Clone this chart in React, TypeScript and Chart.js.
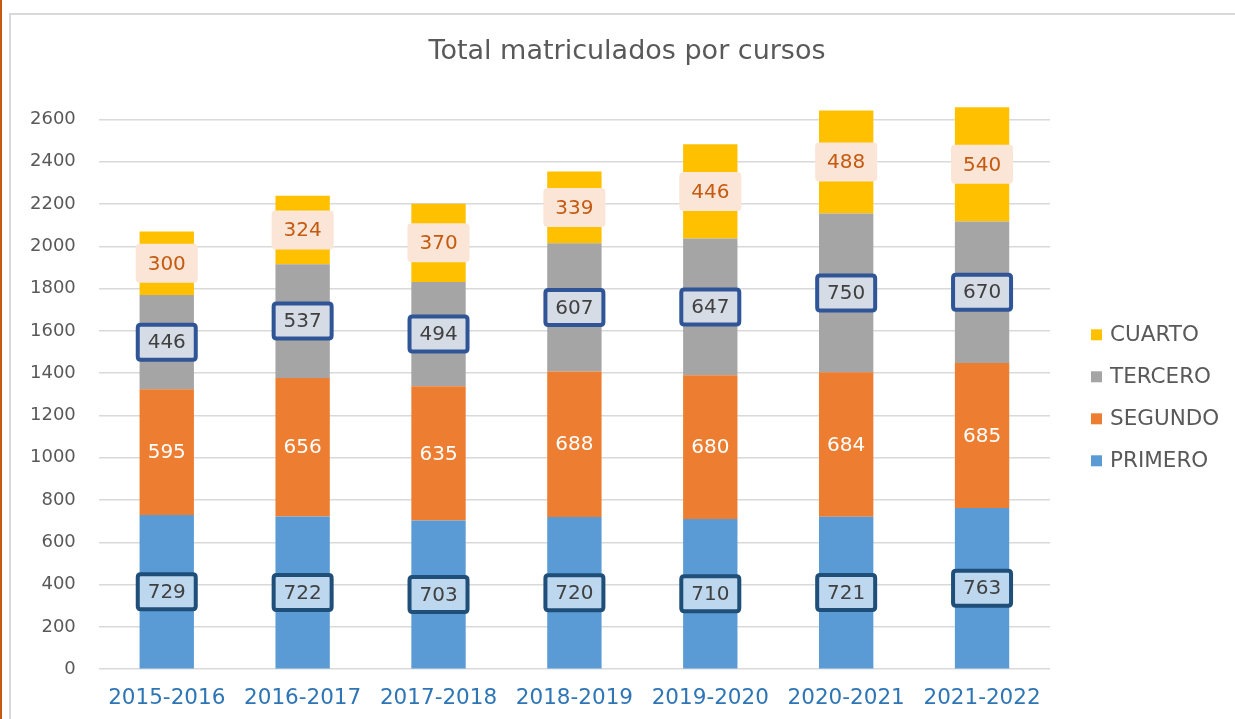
import React, { useEffect, useRef } from "react";
import { Chart, registerables } from "chart.js";

Chart.register(...registerables);

const categories = ["2015-2016", "2016-2017", "2017-2018", "2018-2019", "2019-2020", "2020-2021", "2021-2022"];
const primero = [729, 722, 703, 720, 710, 721, 763];
const segundo = [595, 656, 635, 688, 680, 684, 685];
const tercero = [446, 537, 494, 607, 647, 750, 670];
const cuarto = [300, 324, 370, 339, 446, 488, 540];
const seriesNames = ["PRIMERO", "SEGUNDO", "TERCERO", "CUARTO"];
const yMaxTick = 2600;

const FONT = "'DejaVu Sans', Verdana, sans-serif";
const GRAY = "#595959";

type LabelStyle = { fill?: string; border?: string; text: string };
const labelStyles: LabelStyle[] = [
  { fill: "#BDD7EE", border: "#1F4E79", text: "#404040" },
  { text: "#FFFFFF" },
  { fill: "#D6DCE5", border: "#2F5597", text: "#404040" },
  { fill: "#FBE5D6", text: "#C55A11" },
];

function roundRect(ctx: CanvasRenderingContext2D, x: number, y: number, w: number, h: number, r: number) {
  ctx.beginPath();
  ctx.moveTo(x + r, y);
  ctx.lineTo(x + w - r, y);
  ctx.quadraticCurveTo(x + w, y, x + w, y + r);
  ctx.lineTo(x + w, y + h - r);
  ctx.quadraticCurveTo(x + w, y + h, x + w - r, y + h);
  ctx.lineTo(x + r, y + h);
  ctx.quadraticCurveTo(x, y + h, x, y + h - r);
  ctx.lineTo(x, y + r);
  ctx.quadraticCurveTo(x, y, x + r, y);
  ctx.closePath();
}

const dataLabelPlugin = {
  id: "boxedLabels",
  afterDatasetsDraw(chart: any) {
    const ctx: CanvasRenderingContext2D = chart.ctx;
    ctx.save();
    chart.data.datasets.forEach((ds: any, di: number) => {
      const meta = chart.getDatasetMeta(di);
      const st = labelStyles[di];
      meta.data.forEach((bar: any, i: number) => {
        const cx = bar.x;
        const cy = (bar.y + bar.base) / 2;
        if (st.fill) {
          if (st.border) {
            roundRect(ctx, cx - 29, cy - 17.5, 58, 35, 3);
            ctx.fillStyle = st.fill;
            ctx.fill();
            ctx.lineWidth = 4;
            ctx.strokeStyle = st.border;
            ctx.stroke();
          } else {
            roundRect(ctx, cx - 31, cy - 19.5, 62, 39, 4);
            ctx.fillStyle = st.fill;
            ctx.fill();
          }
        }
        ctx.fillStyle = st.text;
        ctx.font = `20px ${FONT}`;
        ctx.textAlign = "center";
        ctx.textBaseline = "middle";
        ctx.fillText(String(ds.data[i]), cx, cy + 1);
      });
    });
    ctx.restore();
  },
};

const legendPlugin = {
  id: "sideLegend",
  afterDraw(chart: any) {
    const ctx: CanvasRenderingContext2D = chart.ctx;
    const area = chart.chartArea;
    const mid = (area.top + area.bottom) / 2 + 14;
    const n = chart.data.datasets.length;
    const step = 42;
    ctx.save();
    ctx.font = `21.5px ${FONT}`;
    ctx.textAlign = "left";
    ctx.textBaseline = "middle";
    for (let k = 0; k < n; k++) {
      const di = n - 1 - k;
      const ds = chart.data.datasets[di];
      const y = mid + (k - (n - 1) / 2) * step;
      ctx.fillStyle = ds.backgroundColor;
      ctx.fillRect(area.right + 41, y - 5.5, 11, 11);
      ctx.fillStyle = GRAY;
      ctx.fillText(ds.label, area.right + 60, y + 1);
    }
    ctx.restore();
  },
};

export default function App() {
  const ref = useRef<HTMLCanvasElement | null>(null);
  useEffect(() => {
    if (!ref.current) return;
    const chart = new Chart(ref.current, {
      type: "bar",
      data: {
        labels: categories,
        datasets: [
          { label: seriesNames[0], data: primero, backgroundColor: "#5B9BD5" },
          { label: seriesNames[1], data: segundo, backgroundColor: "#ED7D31" },
          { label: seriesNames[2], data: tercero, backgroundColor: "#A5A5A5" },
          { label: seriesNames[3], data: cuarto, backgroundColor: "#FFC000" },
        ],
      },
      options: {
        responsive: false,
        animation: false,
        datasets: { bar: { categoryPercentage: 1, barPercentage: 0.4 } },
        layout: { padding: { left: 7, right: -12, top: 0, bottom: -8 } },
        plugins: {
          legend: { display: false },
          tooltip: { enabled: false },
          title: {
            display: true,
            text: "Total matriculados por cursos",
            color: GRAY,
            font: { family: FONT, size: 27, weight: "normal" },
            padding: { top: 36, bottom: 30 },
          },
        },
        scales: {
          x: {
            stacked: true,
            grid: { display: false, drawTicks: false },
            border: { display: false },
            ticks: { color: "#2E75B6", font: { family: FONT, size: 21.5 }, padding: 16 },
          },
          y: {
            stacked: true,
            min: 0,
            max: 2700,
            afterBuildTicks: (axis: any) => {
              const t = [];
              for (let v = 0; v <= yMaxTick; v += 200) t.push({ value: v });
              axis.ticks = t;
            },
            grid: { color: "#D9D9D9", lineWidth: 1.5, drawTicks: false },
            border: { display: false },
            ticks: {
              color: GRAY,
              font: { family: FONT, size: 18 },
              padding: 23,
              callback: (v: any) => String(v),
            },
          },
          legendSpace: {
            type: "linear",
            position: "right",
            display: true,
            grid: { display: false, drawTicks: false },
            border: { display: false },
            ticks: { display: false },
            afterFit: (axis: any) => {
              axis.width = 197;
            },
          },
        },
      },
      plugins: [dataLabelPlugin, legendPlugin],
    });
    return () => chart.destroy();
  }, []);

  return (
    <div style={{ position: "fixed", left: 0, top: 0, width: 1235, height: 719, overflow: "hidden", background: "#fff" }}>
      <div style={{ position: "absolute", left: 0, top: 0, width: 2, height: 719, background: "#C65911" }} />
      <div style={{ position: "absolute", left: 9, top: 13, width: 1300, height: 800, border: "2px solid #D9D9D9" }} />
      <canvas ref={ref} width={1235} height={719} style={{ position: "absolute", left: 0, top: 0 }} />
    </div>
  );
}
